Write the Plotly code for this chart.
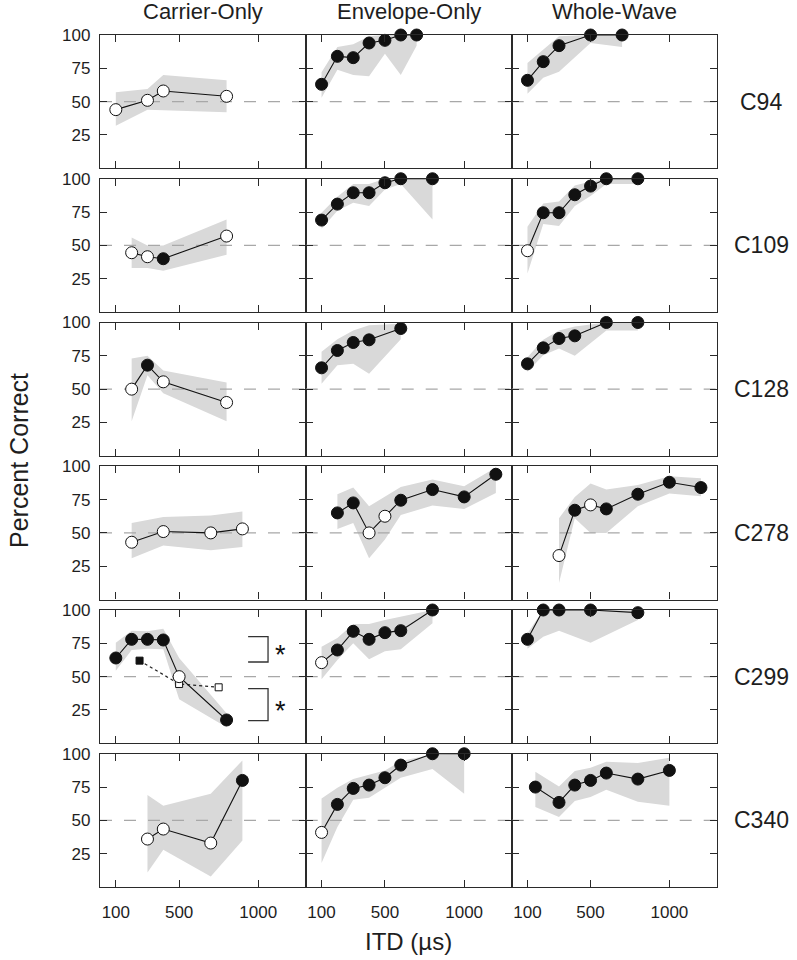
import plotly.graph_objects as go

# ---------------- data ----------------
SUBJECTS = ["C94", "C109", "C128", "C278", "C299", "C340"]
CONDITIONS = ["Carrier-Only", "Envelope-Only", "Whole-Wave"]
X_TICKS = [100, 500, 1000]
Y_TICKS = [25, 50, 75, 100]
CHANCE = 50

# C94
C94_CO_itd = [100, 300, 400, 800]
C94_CO_pc = [44, 51, 58, 54]
C94_CO_filled = [0, 0, 0, 0]
C94_CO_hi = [57, 59.5, 70, 66]
C94_CO_lo = [32, 44, 44, 42]

C94_EO_itd = [100, 200, 300, 400, 500, 600, 700]
C94_EO_pc = [63, 84, 83, 94, 96, 100, 100]
C94_EO_filled = [1, 1, 1, 1, 1, 1, 1]
C94_EO_hi = [72, 91, 93, 99, 100, 100, 100]
C94_EO_lo = [53, 74, 70, 69, 86, 70, 92]

C94_WW_itd = [100, 200, 300, 500, 700]
C94_WW_pc = [66, 80, 92, 100, 100]
C94_WW_filled = [1, 1, 1, 1, 1]
C94_WW_hi = [79, 89, 99, 100, 100]
C94_WW_lo = [56, 68, 72.5, 94, 91]

# C109
C109_CO_itd = [200, 300, 400, 800]
C109_CO_pc = [44.5, 41.5, 40, 57]
C109_CO_filled = [0, 0, 1, 0]
C109_CO_hi = [56, 50, 50, 69.5]
C109_CO_lo = [33, 33, 31, 43]

C109_EO_itd = [100, 200, 300, 400, 500, 600, 800]
C109_EO_pc = [69, 81, 89.5, 89.5, 97, 100, 100]
C109_EO_filled = [1, 1, 1, 1, 1, 1, 1]
C109_EO_hi = [74.5, 86.5, 96, 96, 100, 100, 100]
C109_EO_lo = [62.5, 76, 82, 79.5, 92, 96, 69.5]

C109_WW_itd = [100, 200, 300, 400, 500, 600, 800]
C109_WW_pc = [46, 74.5, 74.5, 88, 94.5, 100, 100]
C109_WW_filled = [0, 1, 1, 1, 1, 1, 1]
C109_WW_hi = [64, 81.5, 83, 95, 98, 100, 100]
C109_WW_lo = [29, 66, 64.5, 79.5, 87, 96, 96]

# C128
C128_CO_itd = [200, 300, 400, 800]
C128_CO_pc = [50, 68, 55.5, 40]
C128_CO_filled = [0, 1, 0, 0]
C128_CO_hi = [73, 75, 64, 55]
C128_CO_lo = [26, 60.5, 47, 26]

C128_EO_itd = [100, 200, 300, 400, 600]
C128_EO_pc = [66, 79, 85, 87, 95.5]
C128_EO_filled = [1, 1, 1, 1, 1]
C128_EO_hi = [78, 87.5, 94, 98, 99]
C128_EO_lo = [54, 68, 69, 61.5, 87.5]

C128_WW_itd = [100, 200, 300, 400, 600, 800]
C128_WW_pc = [69, 81, 88, 90, 100, 100]
C128_WW_filled = [1, 1, 1, 1, 1, 1]
C128_WW_hi = [74, 87, 94, 97, 100, 100]
C128_WW_lo = [63, 75.5, 80.5, 75, 94, 94]

# C278
C278_CO_itd = [200, 400, 700, 900]
C278_CO_pc = [43, 51, 50, 53]
C278_CO_filled = [0, 0, 0, 0]
C278_CO_hi = [57.5, 62, 63, 66]
C278_CO_lo = [31, 40.5, 37, 39.5]

C278_EO_itd = [200, 300, 400, 500, 600, 800, 1000, 1200]
C278_EO_pc = [65, 72.5, 50, 62.5, 74.5, 82.5, 77, 94]
C278_EO_filled = [1, 1, 0, 0, 1, 1, 1, 1]
C278_EO_hi = [79, 84, 70, 77, 84.5, 90, 85, 99]
C278_EO_lo = [53, 57.5, 31, 45, 63.5, 70.5, 68, 80]

C278_WW_itd = [300, 400, 500, 600, 800, 1000, 1200]
C278_WW_pc = [33, 67, 71, 68, 79, 88, 84]
C278_WW_filled = [0, 1, 0, 1, 1, 1, 1]
C278_WW_hi = [61, 77, 87, 82.5, 86, 92.5, 91]
C278_WW_lo = [12.5, 61, 50, 50, 70, 79.5, 77.5]

# C299
C299_CO_itd = [100, 200, 300, 400, 500, 800]
C299_CO_pc = [64, 78, 78, 77.5, 50, 17.5]
C299_CO_filled = [1, 1, 1, 1, 0, 1]
C299_CO_hi = [75.5, 84.5, 84, 86, 64, 22.5]
C299_CO_lo = [54.5, 70, 71, 70.5, 33, 12]

C299_CO2_itd = [250, 500, 750]
C299_CO2_pc = [62, 44.5, 42]
C299_CO2_filled = [1, 0, 0]

C299_EO_itd = [100, 200, 300, 400, 500, 600, 800]
C299_EO_pc = [60.5, 70, 84, 78, 83, 84.5, 100]
C299_EO_filled = [0, 1, 1, 1, 1, 1, 1]
C299_EO_hi = [72.5, 79, 89.5, 89.5, 92.5, 95, 100]
C299_EO_lo = [48, 62.5, 75, 63, 69, 70.5, 90]

C299_WW_itd = [100, 200, 300, 500, 800]
C299_WW_pc = [78, 100, 100, 100, 98]
C299_WW_filled = [1, 1, 1, 1, 1]
C299_WW_hi = [82.5, 100, 100, 100, 100]
C299_WW_lo = [71, 80, 84.5, 75.5, 92.5]

# C340
C340_CO_itd = [300, 400, 700, 900]
C340_CO_pc = [36, 43.5, 33, 80]
C340_CO_filled = [0, 0, 0, 1]
C340_CO_hi = [69, 61, 70, 95]
C340_CO_lo = [11, 28, 8, 35]

C340_EO_itd = [100, 200, 300, 400, 500, 600, 800, 1000]
C340_EO_pc = [41, 62, 74, 76.5, 82, 91.5, 100, 100]
C340_EO_filled = [0, 1, 1, 1, 1, 1, 1, 1]
C340_EO_hi = [66.5, 74.5, 81, 84, 87.5, 94.5, 99.5, 100]
C340_EO_lo = [18, 45, 65.5, 67, 74.5, 82, 88.5, 70]

C340_WW_itd = [150, 300, 400, 500, 600, 800, 1000]
C340_WW_pc = [75, 63.5, 76.5, 80, 85.5, 81, 87.5]
C340_WW_filled = [1, 1, 1, 1, 1, 1, 1]
C340_WW_hi = [86.5, 75.5, 87, 89.5, 94, 93, 97]
C340_WW_lo = [60, 52.5, 64.5, 67.5, 73, 64, 61]

# significance brackets (C299, Carrier-Only): [x_left, x_right, y_top, y_bottom]
BRACKET_UPPER = [936, 1062, 80, 61]
BRACKET_LOWER = [936, 1062, 41, 17]
STAR_X = 1140

PANELS = [
    [(C94_CO_itd, C94_CO_pc, C94_CO_filled, C94_CO_hi, C94_CO_lo),
     (C94_EO_itd, C94_EO_pc, C94_EO_filled, C94_EO_hi, C94_EO_lo),
     (C94_WW_itd, C94_WW_pc, C94_WW_filled, C94_WW_hi, C94_WW_lo)],
    [(C109_CO_itd, C109_CO_pc, C109_CO_filled, C109_CO_hi, C109_CO_lo),
     (C109_EO_itd, C109_EO_pc, C109_EO_filled, C109_EO_hi, C109_EO_lo),
     (C109_WW_itd, C109_WW_pc, C109_WW_filled, C109_WW_hi, C109_WW_lo)],
    [(C128_CO_itd, C128_CO_pc, C128_CO_filled, C128_CO_hi, C128_CO_lo),
     (C128_EO_itd, C128_EO_pc, C128_EO_filled, C128_EO_hi, C128_EO_lo),
     (C128_WW_itd, C128_WW_pc, C128_WW_filled, C128_WW_hi, C128_WW_lo)],
    [(C278_CO_itd, C278_CO_pc, C278_CO_filled, C278_CO_hi, C278_CO_lo),
     (C278_EO_itd, C278_EO_pc, C278_EO_filled, C278_EO_hi, C278_EO_lo),
     (C278_WW_itd, C278_WW_pc, C278_WW_filled, C278_WW_hi, C278_WW_lo)],
    [(C299_CO_itd, C299_CO_pc, C299_CO_filled, C299_CO_hi, C299_CO_lo),
     (C299_EO_itd, C299_EO_pc, C299_EO_filled, C299_EO_hi, C299_EO_lo),
     (C299_WW_itd, C299_WW_pc, C299_WW_filled, C299_WW_hi, C299_WW_lo)],
    [(C340_CO_itd, C340_CO_pc, C340_CO_filled, C340_CO_hi, C340_CO_lo),
     (C340_EO_itd, C340_EO_pc, C340_EO_filled, C340_EO_hi, C340_EO_lo),
     (C340_WW_itd, C340_WW_pc, C340_WW_filled, C340_WW_hi, C340_WW_lo)],
]

# ---------------- layout constants (pixels) ----------------
W, H = 797, 960
COL_EDGES = [100, 305.7, 511.7, 716.7]
ROW_TOP0 = 35
ROW_PITCH = 143.75
ROW_H = 133.3
X_RANGE = [0, 1300]
Y_RANGE = [0, 100]

FONT = "Liberation Sans, Arial, sans-serif"
AX_COLOR = "#2a2a2a"
BAND = "#d9d9d9"
TXT = "#1e1e1e"

fig = go.Figure()
layout = dict(
    template="none",
    width=W, height=H,
    margin=dict(l=0, r=0, t=0, b=0, pad=0, autoexpand=False),
    paper_bgcolor="white", plot_bgcolor="white",
    showlegend=False,
    font=dict(family=FONT, color=TXT, size=16),
)
annotations = []
shapes = []


def label(x_px, y_px, text, size, angle=0):
    return dict(x=x_px / W, y=1 - y_px / H, xref="paper", yref="paper",
                xanchor="center", yanchor="middle", text=text, textangle=angle,
                showarrow=False, font=dict(size=size, family=FONT, color=TXT))


for r in range(6):
    top = ROW_TOP0 + r * ROW_PITCH
    bot = top + ROW_H
    ydom = [1 - bot / H, 1 - top / H]
    for c in range(3):
        n = r * 3 + c + 1
        xs = "x" if n == 1 else f"x{n}"
        ys = "y" if n == 1 else f"y{n}"
        xdom = [COL_EDGES[c] / W, COL_EDGES[c + 1] / W]
        layout["xaxis" if n == 1 else f"xaxis{n}"] = dict(
            domain=xdom, anchor=ys, range=X_RANGE, tickvals=X_TICKS,
            showticklabels=(r == 5), ticks="inside", ticklen=7, tickwidth=1.2,
            tickcolor=AX_COLOR, showline=True, linecolor=AX_COLOR, linewidth=1.3,
            mirror="ticks", showgrid=False, zeroline=False, automargin=False,
            tickfont=dict(size=17, family=FONT, color=TXT),
            ticklabelstandoff=9,
        )
        layout["yaxis" if n == 1 else f"yaxis{n}"] = dict(
            domain=ydom, anchor=xs, range=Y_RANGE, tickvals=Y_TICKS,
            showticklabels=(c == 0), ticks="inside", ticklen=7, tickwidth=1.2,
            tickcolor=AX_COLOR, showline=True, linecolor=AX_COLOR, linewidth=1.3,
            mirror="ticks", showgrid=False, zeroline=False, automargin=False,
            tickfont=dict(size=17, family=FONT, color=TXT),
            ticklabelstandoff=5,
        )
        itd, pc, filled, hi, lo = PANELS[r][c]
        # variability band
        fig.add_trace(go.Scatter(
            x=list(itd) + list(itd)[::-1], y=list(hi) + list(lo)[::-1],
            xaxis=xs, yaxis=ys, mode="lines", fill="toself",
            fillcolor=BAND, line=dict(width=0, color=BAND), hoverinfo="skip"))
        # chance line
        fig.add_trace(go.Scatter(
            x=X_RANGE, y=[CHANCE, CHANCE], xaxis=xs, yaxis=ys, mode="lines",
            line=dict(color="#a8a8a8", width=1.3, dash="12px,12px"), hoverinfo="skip"))
        if r == 4 and c == 0:
            fig.add_trace(go.Scatter(
                x=C299_CO2_itd, y=C299_CO2_pc, xaxis=xs, yaxis=ys,
                mode="lines+markers", cliponaxis=False,
                line=dict(color="#222", width=1.2, dash="dot"),
                marker=dict(symbol="square", size=7,
                            color=["#111" if f else "white" for f in C299_CO2_filled],
                            line=dict(color="#111", width=1))))
        fig.add_trace(go.Scatter(
            x=itd, y=pc, xaxis=xs, yaxis=ys, mode="lines+markers",
            cliponaxis=False,
            line=dict(color="#111", width=1.1),
            marker=dict(symbol="circle", size=12,
                        color=["#111" if f else "white" for f in filled],
                        line=dict(color="#111", width=1))))
        if r == 0:
            annotations.append(label((COL_EDGES[c] + COL_EDGES[c + 1]) / 2, 12,
                                     CONDITIONS[c], 22))
    annotations.append(label(761, top + ROW_H / 2, SUBJECTS[r], 23))

# brackets and asterisks on C299 Carrier-Only (axis 13)
for br in (BRACKET_UPPER, BRACKET_LOWER):
    x0, x1, yt, yb = br
    shapes.append(dict(
        type="path", xref="x13", yref="y13",
        path=f"M {x0},{yt} L {x1},{yt} L {x1},{yb} L {x0},{yb}",
        line=dict(color="#333", width=1.3)))
    annotations.append(dict(
        x=STAR_X, y=(yt + yb) / 2, xref="x13", yref="y13", text="*",
        xanchor="center", yanchor="middle",
        showarrow=False, yshift=-6, font=dict(size=27, family=FONT, color="#111")))

annotations.append(label(19, 461, "Percent Correct", 25, angle=-90))
annotations.append(label(408, 941, "ITD (µs)", 24))

layout["annotations"] = annotations
layout["shapes"] = shapes
fig.update_layout(**layout)
fig.write_html("out.html", config={"displayModeBar": False},
               post_script="document.body.style.margin='0px';")
